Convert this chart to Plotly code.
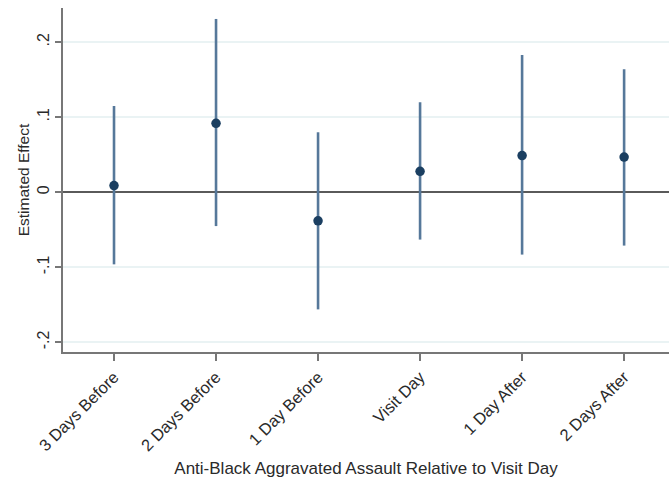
import plotly.graph_objects as go

categories = ["3 Days Before", "2 Days Before", "1 Day Before", "Visit Day", "1 Day After", "2 Days After"]
estimates = [0.009, 0.092, -0.038, 0.028, 0.049, 0.047]
ci_upper = [0.115, 0.231, 0.080, 0.120, 0.183, 0.164]
ci_lower = [-0.096, -0.045, -0.156, -0.063, -0.083, -0.071]
y_tick_vals = [-0.2, -0.1, 0.0, 0.1, 0.2]
y_tick_text = ["-.2", "-.1", "0", ".1", ".2"]

font_family = "Liberation Sans, Arial, sans-serif"
x_idx = list(range(len(categories)))

fig = go.Figure()
fig.add_trace(go.Scatter(
    x=x_idx,
    y=estimates,
    mode="markers",
    marker=dict(color="#1b3f61", size=9.5),
    error_y=dict(
        type="data",
        symmetric=False,
        array=[u - e for u, e in zip(ci_upper, estimates)],
        arrayminus=[e - l for e, l in zip(estimates, ci_lower)],
        color="#56789a",
        thickness=2.6,
        width=0,
    ),
    showlegend=False,
))

fig.update_layout(
    width=669,
    height=480,
    margin=dict(l=63, r=0, t=8, b=128),
    paper_bgcolor="white",
    plot_bgcolor="white",
    font=dict(family=font_family, color="#2a2a2a", size=13),
    xaxis=dict(
        range=[-0.5, 5.44],
        tickmode="array",
        tickvals=x_idx,
        ticktext=categories,
        tickangle=-45,
        ticks="outside",
        ticklen=7,
        tickcolor="#777777",
        tickwidth=1.5,
        showline=True,
        linecolor="#777777",
        linewidth=2,
        showgrid=False,
        zeroline=False,
        tickfont=dict(size=16.5),
        title=dict(text="Anti-Black Aggravated Assault Relative to Visit Day", font=dict(size=17), standoff=9),
    ),
    yaxis=dict(
        range=[-0.2128, 0.2456],
        tickmode="array",
        tickvals=y_tick_vals,
        ticktext=y_tick_text,
        tickangle=-90,
        ticks="outside",
        ticklen=6,
        tickcolor="#777777",
        tickwidth=1.5,
        showline=True,
        linecolor="#777777",
        linewidth=2,
        showgrid=True,
        gridcolor="#eaf3f4",
        gridwidth=1.5,
        zeroline=True,
        zerolinecolor="#5a5a5a",
        zerolinewidth=1.5,
        tickfont=dict(size=16),
        title=dict(text="Estimated Effect", font=dict(size=15.5), standoff=1),
    ),
)

fig.write_html("out.html")
